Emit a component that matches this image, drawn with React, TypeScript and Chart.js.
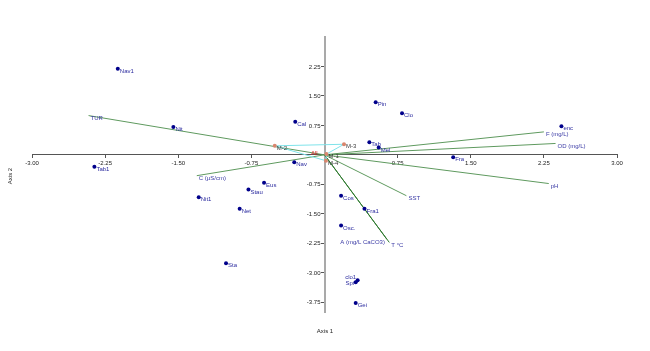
import React, { useEffect, useRef } from 'react';
import { Chart, registerables } from 'chart.js';

Chart.register(...registerables);

// Species (scores)
const speciesNames = ['Nav1', 'Nit', 'Tab1', 'Nit1', 'Cal', 'Pin', 'Clo', 'Tab', 'Mel', 'Nav', 'enc', 'Fra', 'Eus', 'Stau', 'Net', 'Sta', 'Cos', 'Fra1', 'Osc.', 'clo1', 'Spi', 'Gei'];
const speciesX = [-2.12, -1.55, -2.36, -1.29, -0.30, 0.525, 0.795, 0.46, 0.556, -0.31, 2.43, 1.32, -0.62, -0.78, -0.87, -1.01, 0.17, 0.41, 0.17, 0.34, 0.32, 0.32];
const speciesY = [2.19, 0.71, -0.30, -1.08, 0.84, 1.34, 1.06, 0.32, 0.19, -0.19, 0.73, -0.06, -0.71, -0.88, -1.37, -2.76, -1.04, -1.37, -1.80, -3.19, -3.24, -3.77];

// Sites
const siteNames = ['M-1', 'M-2', 'M-3', 'M-4'];
const siteX = [0.02, -0.51, 0.20, 0.015];
const siteY = [0.02, 0.23, 0.27, -0.15];
const hullOrder = ['M-2', 'M-3', 'M-1', 'M-4', 'M-2'];
const groupNames = ['All'];
const groupX = [-0.16];
const groupY = [0.10];

// Environmental vectors
const envNames = ['TUR', 'C (µS/cm)', 'F (mg/L)', 'OD (mg/L)', 'pH', 'SST', 'T °C', 'A (mg/L CaCO3)'];
const envX = [-2.42, -1.31, 2.25, 2.37, 2.30, 0.84, 0.665, 0.64];
const envY = [1.00, -0.53, 0.585, 0.29, -0.73, -1.04, -2.23, -2.15];

// Axis ticks
const xTicks = [-3, -2.25, -1.5, -0.75, 0.75, 1.5, 2.25, 3];
const yTicks = [-3.75, -3, -2.25, -1.5, -0.75, 0.75, 1.5, 2.25];

const FONT = 'Liberation Sans';

const labelPlugin = {
  id: 'pointLabels',
  afterDatasetsDraw(chart: any) {
    const ctx = chart.ctx;
    ctx.save();
    ctx.font = `6px "${FONT}"`;
    ctx.textBaseline = 'middle';
    chart.data.datasets.forEach((ds: any, i: number) => {
      if (!ds.pointLabels) return;
      const meta = chart.getDatasetMeta(i);
      ds.pointLabels.forEach((txt: string, j: number) => {
        if (!txt) return;
        const el = meta.data[j];
        if (!el) return;
        const left = ds.leftLabels && ds.leftLabels.includes(txt);
        const right = txt === 'A (mg/L CaCO3)';
        ctx.fillStyle = ds.labelColor;
        if (left) {
          ctx.textAlign = 'right';
          const dy = txt === 'clo1' ? -3 : 1;
          ctx.fillText(txt, el.x - 1.5, el.y + dy);
        } else if (right) {
          ctx.textAlign = 'right';
          ctx.fillText(txt, el.x - 2, el.y + 3.5);
        } else {
          ctx.textAlign = 'left';
          ctx.fillText(txt, el.x + 2, el.y + 2.5);
        }
      });
    });
    // y tick labels (left of the centred axis)
    const ys = chart.scales.y;
    const xs = chart.scales.x;
    const axisX = xs.getPixelForValue(0);
    ctx.fillStyle = '#222';
    ctx.textAlign = 'right';
    ys.ticks.forEach((t: any) => {
      ctx.fillText(Number(t.value).toFixed(2), axisX - 4, ys.getPixelForValue(t.value) + 0.5);
    });
    // axis titles
    ctx.textAlign = 'center';
    ctx.fillText('Axis 1', 325, 331);
    ctx.translate(10, 176);
    ctx.rotate(-Math.PI / 2);
    ctx.fillText('Axis 2', 0, 0);
    ctx.restore();
  },
};

export default function App() {
  const ref = useRef<HTMLCanvasElement>(null);
  useEffect(() => {
    document.body.style.margin = '0';
    const canvas = ref.current!;
    const vectorSets = envNames.map((n, i) => ({
      type: 'line' as const,
      label: n,
      data: [{ x: 0, y: 0 }, { x: envX[i], y: envY[i] }],
      borderColor: n === 'T °C' || n === 'A (mg/L CaCO3)' ? '#2f7a2f' : '#5f9a5f',
      borderWidth: 1,
      pointRadius: 0,
      showLine: true,
      fill: false,
      pointLabels: ['', n],
      labelColor: '#3a3aa5',
      order: 3,
    }));
    const hull = {
      type: 'line' as const,
      label: 'hull',
      data: hullOrder.map((n) => {
        const k = siteNames.indexOf(n);
        return { x: siteX[k], y: siteY[k] };
      }),
      borderColor: '#7fe3ea',
      borderWidth: 1,
      pointRadius: 0,
      showLine: true,
      fill: false,
      order: 2,
    };
    const sites = {
      type: 'scatter' as const,
      label: 'sites',
      data: siteNames.map((_, i) => ({ x: siteX[i], y: siteY[i] })),
      backgroundColor: '#d9866e',
      borderColor: '#d9866e',
      pointRadius: 2,
      pointBorderWidth: 0,
      pointLabels: siteNames,
      labelColor: '#3a3a3a',
      order: 1,
    };
    const groups = {
      type: 'scatter' as const,
      label: 'groups',
      data: groupNames.map((_, i) => ({ x: groupX[i], y: groupY[i] })),
      backgroundColor: '#d9866e',
      pointRadius: 0,
      pointLabels: groupNames,
      labelColor: '#d42020',
      order: 1,
    };
    const species = {
      type: 'scatter' as const,
      label: 'species',
      data: speciesNames.map((_, i) => ({ x: speciesX[i], y: speciesY[i] })),
      backgroundColor: '#00008b',
      borderColor: '#00008b',
      pointRadius: 2,
      pointBorderWidth: 0,
      pointLabels: speciesNames,
      leftLabels: ['clo1', 'Spi'],
      labelColor: '#2b2b9f',
      order: 0,
    };

    const chart = new Chart(canvas, {
      type: 'scatter',
      data: { datasets: [...vectorSets, hull, sites, groups, species] as any },
      options: {
        animation: false,
        responsive: false,
        devicePixelRatio: 1,
        layout: { padding: { left: 32, right: 33, top: 37, bottom: 39 } },
        plugins: { legend: { display: false }, tooltip: { enabled: false } },
        scales: {
          x: {
            type: 'linear',
            min: -3,
            max: 3,
            position: { y: 0 } as any,
            afterFit: (s: any) => { s.height = 0; },
            afterBuildTicks: (s: any) => { s.ticks = xTicks.map((v) => ({ value: v })); },
            ticks: {
              autoSkip: false,
              maxRotation: 0,
              padding: 2,
              color: '#222',
              font: { family: FONT, size: 6 },
              callback: (v: any) => Number(v).toFixed(2),
            },
            grid: { display: true, drawOnChartArea: false, drawTicks: true, tickLength: 3, color: '#555' },
            border: { display: true, color: '#555', width: 1 },
          },
          y: {
            type: 'linear',
            min: -4,
            max: 3,
            position: { x: 0 } as any,
            afterFit: (s: any) => { s.width = 0; },
            afterBuildTicks: (s: any) => { s.ticks = yTicks.map((v) => ({ value: v })); },
            ticks: {
              display: false,
              autoSkip: false,
              font: { family: FONT, size: 6 },
            },
            grid: { display: true, drawOnChartArea: false, drawTicks: true, tickLength: 3, color: '#555' },
            border: { display: true, color: '#a9a9a9', width: 2 },
          },
        },
      },
      plugins: [labelPlugin],
    });
    return () => chart.destroy();
  }, []);
  return (
    <div style={{ width: 650, height: 351, background: '#fff' }}>
      <canvas ref={ref} width={650} height={351} style={{ display: 'block' }} />
    </div>
  );
}
